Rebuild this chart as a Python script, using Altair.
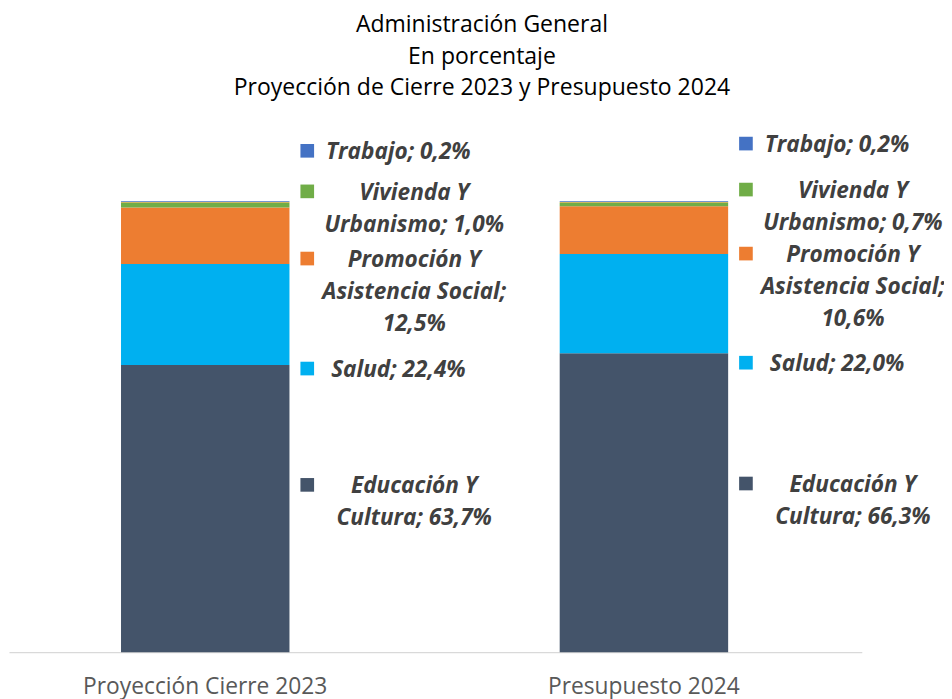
import altair as alt
import pandas as pd

# ---------------- data ----------------
categories = ["Proyección Cierre 2023", "Presupuesto 2024"]
series = ["Educación Y Cultura", "Salud", "Promoción Y Asistencia Social",
          "Vivienda Y Urbanismo", "Otros", "Trabajo"]
colors = ["#44546A", "#00B0F0", "#ED7D31", "#70AD47", "#FFC000", "#4472C4"]
values_2023 = [63.7, 22.4, 12.5, 1.0, 0.2, 0.2]
values_2024 = [66.3, 22.0, 10.6, 0.7, 0.2, 0.2]

label_templates = ["Educación Y\nCultura; {v}%", "Salud; {v}%",
                   "Promoción Y\nAsistencia Social;\n{v}%",
                   "Vivienda Y\nUrbanismo; {v}%", None, "Trabajo; {v}%"]
# where Excel's (manually placed) data labels sit, in % units of the value axis
label_anchor_2023 = [37.1, 62.9, 87.3, 102.2, None, 111.2]
label_anchor_2024 = [37.4, 64.2, 88.4, 102.6, None, 112.8]

title_lines = ["Administración General", "En porcentaje",
               "Proyección de Cierre 2023 y Presupuesto 2024"]

# ---------------- tables ----------------
bar_rows, label_rows = [], []
for cat, vals, anchors in [(categories[0], values_2023, label_anchor_2023),
                           (categories[1], values_2024, label_anchor_2024)]:
    for i, (s, v, a) in enumerate(zip(series, vals, anchors)):
        bar_rows.append({"cat": cat, "serie": s, "valor": v, "idx": i})
        if label_templates[i] is not None:
            txt = label_templates[i].format(v=f"{v:.1f}".replace(".", ","))
            label_rows.append({"cat": cat, "serie": s, "pos": a, "txt": txt,
                               "multi": "\n" in txt})
bars_df = pd.DataFrame(bar_rows)
labels_df = pd.DataFrame(label_rows)

FONT = "Open Sans"
x_scale = alt.Scale(domain=categories, paddingInner=0.616, paddingOuter=0.28, align=0.456)
y_scale = alt.Scale(domain=[0, 116], nice=False, zero=True)
color_scale = alt.Scale(domain=series, range=colors)

x_enc = alt.X("cat:N", scale=x_scale, sort=categories,
              axis=alt.Axis(title=None, labelAngle=0, ticks=False, domain=True,
                            domainColor="#D9D9D9", domainWidth=1.2,
                            labelFont=FONT, labelFontSize=23, labelColor="#595959",
                            labelPadding=24, labelLimit=0, grid=False))

bars = alt.Chart(bars_df).mark_bar().encode(
    x=x_enc,
    y=alt.Y("valor:Q", stack="zero", scale=y_scale, axis=None),
    color=alt.Color("serie:N", scale=color_scale, legend=None),
    order=alt.Order("idx:Q", sort="ascending"),
)

squares = alt.Chart(labels_df).mark_square(size=190, opacity=1, filled=True, xOffset=103).encode(
    x=alt.X("cat:N", scale=x_scale, sort=categories),
    y=alt.Y("pos:Q", scale=y_scale),
    color=alt.Color("serie:N", scale=color_scale, legend=None),
)

text_style = dict(font=FONT, fontSize=22.8, fontWeight="bold", fontStyle="italic",
                  color="#404040", align="center", baseline="alphabetic",
                  lineBreak="\n", lineHeight=32.5, dy=8.5)

text_single = alt.Chart(labels_df).transform_filter("!datum.multi").mark_text(
    dx=195, **text_style).encode(
    x=alt.X("cat:N", scale=x_scale, sort=categories),
    y=alt.Y("pos:Q", scale=y_scale),
    text="txt:N",
)
text_multi = alt.Chart(labels_df).transform_filter("datum.multi").mark_text(
    dx=211, **text_style).encode(
    x=alt.X("cat:N", scale=x_scale, sort=categories),
    y=alt.Y("pos:Q", scale=y_scale),
    text="txt:N",
)

chart = alt.layer(bars, squares, text_single, text_multi).properties(
    width=861, height=528,
    title=alt.TitleParams(text=title_lines, font=FONT, fontSize=23.2, fontWeight="normal",
                          color="#000000", lineHeight=32, anchor="middle", dx=47,
                          baseline="bottom", offset=6),
    autosize=alt.AutoSizeParams(type="none"),
    padding={"left": 1, "top": 119, "right": 83, "bottom": 44},
).configure(background="white").configure_view(stroke=None, strokeWidth=0)

chart.save("out.html", embed_options={"renderer": "svg", "actions": False})
